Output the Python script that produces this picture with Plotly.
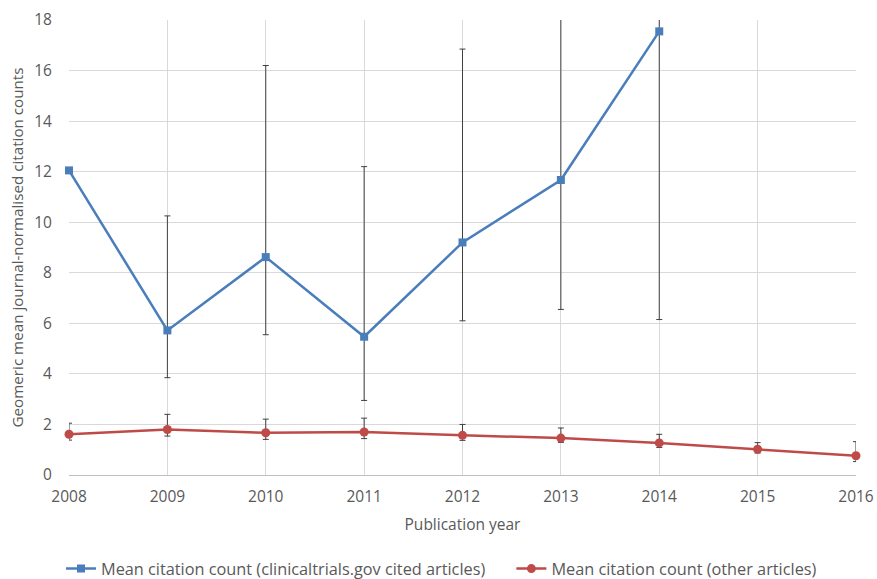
import plotly.graph_objects as go

years = [2008, 2009, 2010, 2011, 2012, 2013, 2014, 2015, 2016]

ct_years = [2008, 2009, 2010, 2011, 2012, 2013, 2014]
ct_mean = [12.05, 5.72, 8.62, 5.47, 9.2, 11.67, 17.55]
ct_upper = [12.05, 10.25, 16.2, 12.2, 16.85, 22.0, 26.0]
ct_lower = [12.05, 3.85, 5.55, 2.95, 6.1, 6.55, 6.15]

ot_mean = [1.61, 1.8, 1.67, 1.7, 1.57, 1.46, 1.27, 1.02, 0.76]
ot_upper = [2.05, 2.4, 2.21, 2.25, 2.0, 1.86, 1.61, 1.28, 1.32]
ot_lower = [1.38, 1.54, 1.41, 1.44, 1.37, 1.29, 1.09, 0.87, 0.53]

blue = "#4A7EBB"
red = "#BE4B48"
err_col = "#404040"
font_family = "Open Sans, Noto Sans, sans-serif"
fs = 15.5

fig = go.Figure()
fig.add_trace(go.Scatter(
    x=ct_years, y=ct_mean, mode="lines+markers",
    name="Mean citation count (clinicaltrials.gov cited articles)" + "\u00a0" * 5,
    line=dict(color=blue, width=2.5),
    marker=dict(symbol="square", size=8, color=blue),
    cliponaxis=False,
    error_y=dict(type="data", symmetric=False,
                 array=[u - m for u, m in zip(ct_upper, ct_mean)],
                 arrayminus=[m - l for m, l in zip(ct_mean, ct_lower)],
                 color=err_col, thickness=1, width=3),
))
fig.add_trace(go.Scatter(
    x=years, y=ot_mean, mode="lines+markers",
    name="Mean citation count (other articles)",
    line=dict(color=red, width=2.5),
    marker=dict(symbol="circle", size=9, color=red),
    cliponaxis=False,
    error_y=dict(type="data", symmetric=False,
                 array=[u - m for u, m in zip(ot_upper, ot_mean)],
                 arrayminus=[m - l for m, l in zip(ot_mean, ot_lower)],
                 color=err_col, thickness=1, width=3),
))

fig.update_layout(
    width=877, height=579,
    margin=dict(l=69, r=21, t=20, b=104, autoexpand=False),
    paper_bgcolor="white", plot_bgcolor="white",
    font=dict(family=font_family, size=fs, color="#595959"),
    showlegend=True,
    legend=dict(orientation="h", xref="container", x=441.5 / 877, xanchor="center",
                yref="container", y=10 / 579, yanchor="middle",
                font=dict(size=16.3, color="#595959")),
    xaxis=dict(range=[2007.9999, 2016.0001], tickvals=years, ticktext=[str(y) for y in years],
               showgrid=True, gridcolor="#d9d9d9", gridwidth=1,
               showline=True, linecolor="#bfbfbf", linewidth=1,
               zeroline=False, ticks="outside", ticklen=7, tickcolor="rgba(0,0,0,0)",
               automargin=False, ticklabeloverflow="allow",
               tickfont=dict(size=fs, color="#595959"),
               title=dict(text="Publication year", font=dict(size=fs, color="#595959"), standoff=13)),
    yaxis=dict(range=[0, 18], dtick=2,
               showgrid=True, gridcolor="#d9d9d9", gridwidth=1,
               showline=False, zeroline=False,
               ticks="outside", ticklen=13, tickcolor="rgba(0,0,0,0)",
               automargin=False,
               tickfont=dict(size=fs, color="#595959"),
               title=dict(text="Geomeric mean journal-normalised citation counts",
                          font=dict(size=15.2, color="#595959"), standoff=6)),
)

fig.write_html("out.html", config={"displayModeBar": False},
               post_script="document.body.style.margin='0';")
